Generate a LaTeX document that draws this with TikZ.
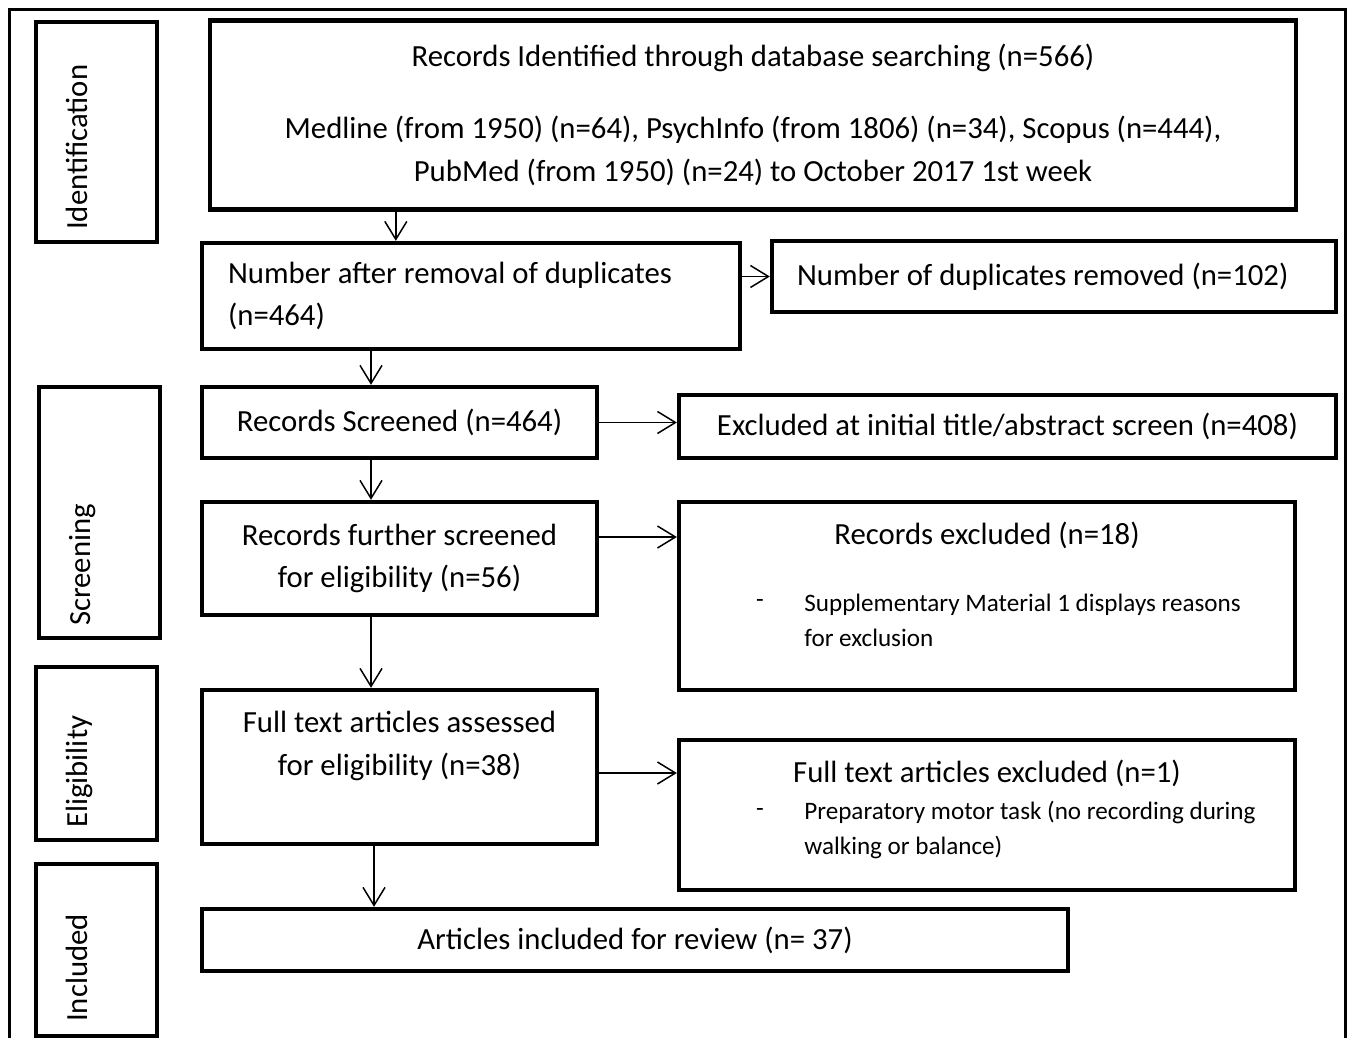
\documentclass[tikz,border=0pt]{standalone}
\usepackage{fontspec}
\setmainfont{Carlito}
\usetikzlibrary{arrows.meta,positioning}

\tikzset{
  box/.style={draw, line width=2.5pt, inner sep=0pt, align=center},
  sidebox/.style={draw, line width=2.5pt, minimum width=2.42cm},
  sidetext/.style={rotate=90, anchor=base west, inner sep=0pt},
  small/.style={inner sep=0pt, font=\fontsize{14.3}{19.9}\selectfont},
  link/.style={->, line width=0.85pt}
}

\begin{document}
\begin{tikzpicture}[x=0.02cm, y=-0.02cm,
    font=\fontsize{17.5}{24.4}\selectfont,
    >={Straight Barb[length=3.6mm, width=4.4mm]}]
  \useasboundingbox (0,0) rectangle (1353,1038);
  \draw[line width=2pt] (9.5,1040) -- (9.5,9.5) -- (1345.5,9.5) -- (1345.5,1040);

  % stage boxes on the left
  \node[sidebox, minimum height=4.4cm]  (ident) at (96.5,132)   {};
  \node[sidebox, minimum height=5.02cm] (scrn)  at (99.5,512.5) {};
  \node[sidebox, minimum height=3.46cm] (elig)  at (96.5,753.5) {};
  \node[sidebox, minimum height=3.44cm] (incl)  at (96.5,950)   {};
  \node[sidetext] (identT) at ([shift={(54,-14)}]ident.south west) {Identification};
  \node[sidetext] (scrnT)  at ([shift={(54,-14)}]scrn.south west)  {Screening};
  \node[sidetext] (eligT)  at ([shift={(54,-14)}]elig.south west)  {Eligibility};
  \node[sidetext] (inclT)  at ([shift={(54,-16)}]incl.south west)  {Included};

  % main flow
  \node[box, minimum width=21.72cm, minimum height=3.78cm] (search) at (753,115)
    {Records Identified through database searching (n=566)\\[0.58cm]
     Medline (from 1950) (n=64), PsychInfo (from 1806) (n=34), Scopus (n=444),\\
     PubMed (from 1950) (n=24) to October 2017 1st week};
  \node[box, minimum width=10.76cm, minimum height=2.12cm, text width=9.72cm, align=flush left] (dedup) at (471,296)
    {Number after removal of duplicates\\(n=464)};
  \node[box, minimum width=11.28cm, minimum height=1.42cm, text width=10.28cm, align=flush left] (dupes) at (1054,276.5)
    {Number of duplicates removed (n=102)};
  \node[box, minimum width=7.9cm, minimum height=1.42cm] (screened) at (399.5,422.5)
    {Records Screened (n=464)};
  \node[box, minimum width=13.14cm, minimum height=1.26cm] (excl1) at (1007.5,426.5)
    {Excluded at initial title/abstract screen (n=408)};
  \node[box, minimum width=7.9cm, minimum height=2.26cm] (further) at (399.5,558.5)
    {Records further screened\\for eligibility (n=56)};
  \node[box, minimum width=12.32cm, minimum height=3.76cm] (excl2) at (987,596) {};
  \node[box, minimum width=7.9cm, minimum height=3.08cm] (fulltext) at (399.5,767) {};
  \node[box, minimum width=12.32cm, minimum height=3cm] (excl3) at (987,815) {};
  \node[box, minimum width=17.32cm, minimum height=1.24cm] (review) at (635,940)
    {Articles included for review (n= 37)};

  % texts inside the larger boxes
  \node[inner sep=0pt] (excl2T) at ([yshift=-0.72cm]excl2.north) {Records excluded (n=18)};
  \node[small] (excl2D) at (760,603) {-};
  \node[small, align=left, anchor=west] (excl2R) at (804,620.5)
    {Supplementary Material 1 displays reasons\\for exclusion};
  \node[inner sep=0pt, align=center] (fulltextT) at (399.5,746)
    {Full text articles assessed\\for eligibility (n=38)};
  \node[inner sep=0pt] (excl3T) at ([yshift=-0.72cm]excl3.north) {Full text articles excluded (n=1)};
  \node[small] (excl3D) at (760,812) {-};
  \node[small, align=left, anchor=west] (excl3R) at (804,830)
    {Preparatory motor task (no recording during\\walking or balance)};

  % connectors
  \coordinate (drop) at ([xshift=3.92cm]dedup.north west);
  \coordinate (spine) at ([xshift=-0.57cm]screened.north);
  \draw[link] (search.south -| drop) -- (drop);
  \draw[link] (dedup.east |- dupes.west) -- (dupes.west);
  \draw[link] (dedup.south -| spine) -- (spine);
  \draw[link] (screened.east) -- (screened.east -| excl1.west);
  \draw[link] (screened.south -| spine) -- (further.north -| spine);
  \draw[link] ([yshift=0.43cm]further.east) -- ([yshift=0.43cm]further.east -| excl2.west);
  \draw[link] (further.south -| spine) -- (fulltext.north -| spine);
  \draw[link] ([yshift=-0.12cm]fulltext.east) -- ([yshift=-0.12cm]fulltext.east -| excl3.west);
  \draw[link] ([xshift=0.06cm]fulltext.south -| spine) -- ([xshift=0.06cm]review.north -| spine);
\end{tikzpicture}
\end{document}
